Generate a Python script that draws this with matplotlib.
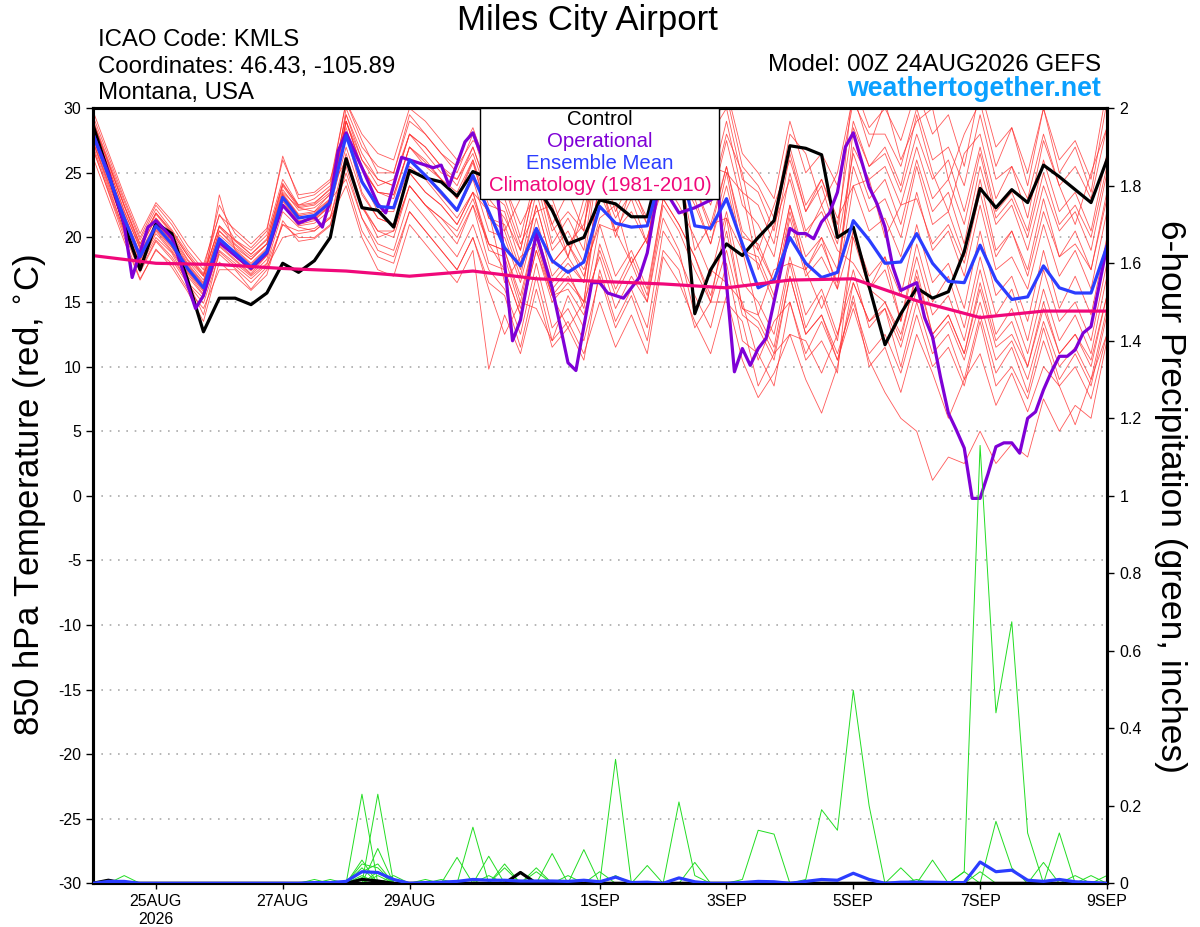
import numpy as np
import matplotlib
matplotlib.use('Agg')
import matplotlib.pyplot as plt
from matplotlib.patches import Rectangle
from matplotlib.ticker import FormatStrFormatter

plt.rcParams['font.family'] = ['Liberation Sans', 'DejaVu Sans']
plt.rcParams['axes.unicode_minus'] = False

# forecast hours from 00Z 24AUG2026, 6-hourly ensemble output
hours = np.arange(0, 385, 6)
clim_hours = np.arange(0, 385, 24)

xtick_hours = [24, 72, 120, 192, 240, 288, 336, 384]
xtick_labels = ['25AUG\n2026', '27AUG', '29AUG', '1SEP', '3SEP', '5SEP', '7SEP', '9SEP']

control_temp = [28.8, 25.0, 21.0, 17.5, 21.1, 20.3, 16.7, 12.7,
                15.3, 15.3, 14.8, 15.7, 18.0, 17.3, 18.2, 20.0,
                26.1, 22.3, 22.1, 20.8, 25.2, 24.6, 24.3, 23.2,
                25.1, 24.6, 24.2, 23.8, 24.0, 22.1, 19.5, 20.0,
                22.9, 22.6, 21.6, 21.6, 26.5, 27.0, 14.1, 17.5,
                19.5, 18.6, 20.0, 21.3, 27.1, 26.9, 26.4, 20.0,
                20.8, 16.2, 11.7, 14.1, 16.1, 15.3, 15.8, 18.9,
                23.8, 22.3, 23.7, 22.7, 25.6, 24.7, 23.7, 22.7,
                26.0]

mean_temp = [28.1, 24.8, 21.5, 18.5, 20.9, 19.5, 17.6, 16.1,
             19.9, 18.8, 17.7, 18.9, 23.1, 21.5, 21.7, 22.7,
             27.9, 24.3, 22.4, 22.3, 26.0, 24.8, 23.5, 22.1,
             24.8, 22.0, 19.2, 17.8, 20.7, 18.2, 17.3, 18.1,
             22.4, 21.1, 20.8, 20.9, 25.5, 26.0, 20.9, 20.7,
             23.0, 19.5, 16.1, 16.7, 20.0, 18.0, 16.9, 17.3,
             21.3, 19.8, 18.0, 18.1, 20.3, 18.0, 16.6, 16.5,
             19.4, 16.7, 15.2, 15.4, 17.8, 16.1, 15.7, 15.7,
             19.3]

# operational run is 3-hourly
op_hours = [0, 6, 12, 15, 21, 24, 30, 39, 42, 48, 60, 66, 72, 78, 84, 87, 90, 93, 96, 102,
            108, 111, 117, 123, 129, 132, 135, 141, 144, 147, 153, 159, 162, 168, 174, 180,
            183, 189, 192, 195, 201, 207, 210, 216, 219, 222, 228, 234, 237, 243, 246, 249,
            252, 255, 264, 267, 270, 273, 276, 279, 282, 285, 288, 294, 297, 300, 303, 306,
            309, 312, 315, 318, 321, 324, 327, 330, 333, 336, 339, 342, 345, 348, 351, 354,
            357, 360, 363, 366, 369, 372, 375, 378, 384]
op_temp = [28.1, 25.0, 21.0, 16.9, 20.8, 21.3, 20.0, 14.5, 15.5, 19.6, 17.6, 18.8, 22.5, 21.1,
           21.6, 20.8, 22.9, 26.7, 28.1, 25.4, 22.6, 21.9, 26.2, 25.8, 25.4, 25.6, 24.0, 27.4,
           28.1, 26.5, 24.0, 12.0, 13.6, 20.3, 16.1, 10.3, 9.7, 16.5, 16.5, 15.7, 15.3, 16.9,
           18.8, 26.0, 22.9, 21.9, 22.3, 22.9, 23.3, 9.6, 11.4, 10.1, 11.4, 12.2, 20.7, 20.3,
           20.3, 19.9, 21.2, 21.9, 23.5, 27.0, 28.1, 23.9, 22.6, 20.8, 17.7, 15.9, 16.2, 16.5,
           13.8, 12.3, 9.2, 6.4, 5.1, 3.7, -0.2, -0.2, 1.7, 3.8, 4.1, 4.1, 3.3, 6.0, 6.5, 8.2,
           9.6, 10.8, 10.8, 11.3, 12.6, 13.1, 19.3]

clim_temp = [18.6, 18.0, 17.9, 17.6, 17.4, 17.0, 17.4, 16.8, 16.6,
             16.4, 16.1, 16.7, 16.8, 15.1, 13.8, 14.3, 14.3]

member_temp = [
    [28.6, 25.5, 22.0, 19.2, 21.5, 20.0, 18.0, 16.5, 20.5, 19.2, 18.3, 19.5, 23.5, 22.3, 22.0, 23.4,
     29.5, 26.0, 24.0, 24.5, 28.0, 26.5, 25.0, 24.5,
     26.5, 23.0, 21.5, 19.0, 24.5, 21.0, 18.5, 22.0, 27.0, 23.0, 26.0, 25.0, 28.5, 31.0, 26.0, 23.0,
     28.0, 25.0, 19.0, 22.5, 26.0, 22.0, 24.5, 21.0, 29.0, 25.5, 27.0, 24.0, 29.5, 25.0, 22.0, 26.5,
     28.0, 23.0, 25.5, 21.5, 27.5, 24.0, 21.0, 25.0, 28.5],
    [27.5, 24.0, 20.5, 17.8, 20.0, 18.8, 16.5, 15.3, 19.0, 18.0, 17.0, 18.0, 22.0, 20.8, 20.5, 21.5,
     26.5, 22.5, 20.0, 20.5, 24.0, 22.5, 21.0, 19.5,
     22.5, 18.0, 17.5, 14.0, 19.0, 15.5, 13.0, 15.0, 18.5, 14.5, 17.0, 15.0, 21.5, 19.0, 14.0, 17.5,
     16.5, 15.0, 10.5, 13.5, 15.0, 11.0, 13.5, 10.5, 15.5, 10.0, 11.5, 8.0, 12.5, 9.5, 6.0, 9.0,
     11.0, 7.0, 9.5, 6.5, 10.0, 8.5, 5.5, 9.0, 12.5],
    [29.2, 26.0, 22.8, 19.8, 22.2, 20.6, 18.8, 17.2, 21.8, 19.8, 19.0, 20.2, 24.5, 22.5, 23.0, 24.0,
     30.5, 27.5, 25.0, 25.0, 29.5, 28.0, 26.5, 25.5,
     27.5, 26.5, 20.5, 23.0, 25.0, 21.0, 23.5, 20.5, 28.5, 26.0, 29.0, 24.5, 31.5, 32.0, 27.5, 29.0,
     31.0, 25.5, 24.0, 21.5, 28.0, 26.5, 22.5, 25.0, 31.0, 27.0, 30.5, 26.0, 29.0, 30.0, 24.5, 28.0,
     30.5, 25.5, 28.5, 24.0, 30.0, 25.0, 27.0, 23.5, 30.5],
    [27.0, 23.5, 20.0, 16.8, 19.0, 18.0, 16.0, 14.5, 17.5, 17.5, 16.0, 17.5, 21.0, 20.0, 20.0, 21.0,
     25.0, 21.5, 19.0, 18.5, 22.0, 20.5, 19.0, 17.5,
     20.0, 16.0, 12.5, 15.0, 14.5, 12.0, 15.5, 13.0, 19.5, 16.0, 18.5, 15.5, 23.0, 21.0, 18.5, 15.0,
     21.5, 14.5, 14.0, 11.5, 18.0, 13.0, 15.5, 12.0, 20.0, 16.0, 18.5, 13.5, 19.5, 15.0, 17.0, 13.0,
     18.5, 14.0, 16.0, 12.0, 17.5, 13.5, 15.0, 12.0, 18.0],
    [28.0, 25.0, 21.3, 18.3, 21.0, 19.8, 17.5, 16.0, 20.0, 18.5, 17.5, 19.0, 23.3, 21.7, 21.5, 23.0,
     29.0, 25.5, 23.5, 23.0, 27.0, 25.5, 24.5, 23.5,
     26.0, 21.5, 20.5, 17.0, 22.5, 18.0, 19.5, 17.0, 21.5, 22.5, 18.0, 20.0, 24.5, 22.5, 20.0, 17.0,
     22.0, 16.5, 15.0, 12.5, 18.5, 14.0, 16.0, 12.5, 17.5, 13.0, 14.5, 10.0, 15.0, 11.0, 12.5, 9.0,
     14.0, 9.5, 11.5, 8.0, 13.0, 9.0, 11.0, 8.5, 14.0],
    [28.9, 25.7, 22.4, 19.3, 21.8, 20.3, 18.3, 17.0, 20.8, 19.5, 18.5, 19.5, 24.0, 22.3, 22.5, 23.5,
     28.0, 23.5, 21.5, 21.0, 25.0, 23.5, 22.5, 21.0,
     23.5, 22.0, 16.5, 18.5, 19.5, 15.5, 17.0, 15.0, 24.5, 20.0, 24.0, 21.5, 27.0, 29.5, 23.0, 25.5,
     25.0, 23.5, 17.5, 21.0, 24.5, 20.0, 22.5, 19.5, 26.5, 23.0, 24.5, 21.0, 26.0, 22.0, 23.5, 19.5,
     25.5, 21.0, 22.5, 19.0, 24.0, 20.5, 22.0, 19.0, 25.0],
    [27.6, 24.3, 21.0, 18.0, 20.5, 19.0, 17.2, 15.6, 19.4, 18.3, 17.2, 18.6, 22.5, 21.0, 21.3, 22.5,
     29.0, 26.0, 24.5, 24.0, 28.0, 27.0, 25.5, 24.5,
     27.0, 23.5, 23.0, 19.5, 22.0, 22.5, 18.5, 23.0, 26.0, 27.5, 24.5, 28.5, 30.0, 33.0, 25.5, 28.0,
     30.0, 24.5, 23.5, 20.5, 27.0, 22.5, 24.5, 21.5, 24.0, 24.5, 20.0, 22.5, 23.0, 19.5, 21.0, 18.0,
     23.5, 18.5, 20.5, 17.0, 22.0, 18.5, 19.5, 17.5, 23.0],
    [29.5, 26.3, 23.0, 20.0, 22.5, 21.0, 19.0, 17.5, 22.5, 20.3, 19.2, 20.5, 26.3, 23.0, 23.3, 24.3,
     30.5, 28.0, 26.5, 26.0, 30.0, 29.0, 27.5, 26.0,
     28.5, 25.0, 24.0, 21.0, 23.5, 23.0, 19.5, 21.0, 26.0, 22.0, 24.5, 21.0, 28.5, 27.0, 24.0, 20.5,
     25.5, 20.0, 19.5, 16.5, 22.5, 17.5, 20.0, 16.0, 20.5, 16.0, 17.5, 13.5, 18.5, 14.0, 15.5, 12.0,
     17.5, 12.5, 14.5, 11.0, 16.0, 12.0, 14.0, 11.0, 17.0],
    [27.2, 23.8, 20.5, 17.5, 19.8, 18.5, 16.6, 14.0, 18.9, 17.8, 16.8, 17.9, 21.0, 20.5, 20.7, 21.6,
     25.5, 21.5, 19.5, 19.0, 23.0, 21.5, 20.0, 18.5,
     21.0, 17.5, 16.0, 12.5, 18.0, 13.0, 14.5, 12.0, 17.0, 13.0, 15.5, 12.0, 19.0, 17.5, 13.0, 15.0,
     15.0, 13.5, 8.5, 11.0, 12.5, 12.0, 9.5, 12.5, 16.5, 13.5, 15.0, 12.0, 17.5, 12.5, 14.0, 11.0,
     16.5, 12.0, 13.5, 10.0, 15.0, 11.0, 12.5, 10.5, 15.5],
    [28.4, 25.1, 21.8, 18.8, 21.2, 19.8, 17.9, 16.4, 20.2, 19.1, 18.0, 19.2, 23.4, 21.8, 22.0, 23.0,
     28.0, 24.3, 22.5, 22.2, 26.0, 24.8, 23.3, 22.0,
     24.5, 20.5, 20.0, 16.5, 21.5, 17.0, 18.5, 16.5, 24.5, 20.5, 23.0, 19.5, 27.5, 25.5, 23.0, 19.5,
     25.0, 19.0, 18.5, 15.5, 22.0, 17.5, 19.5, 16.5, 24.0, 20.5, 21.5, 18.5, 23.5, 19.0, 20.5, 17.0,
     22.5, 17.5, 18.5, 16.0, 21.0, 17.0, 19.0, 16.0, 22.0],
    [27.8, 24.5, 21.2, 18.2, 20.6, 19.2, 17.3, 15.8, 19.6, 18.5, 17.4, 18.6, 22.8, 21.2, 21.4, 22.4,
     27.0, 23.3, 21.5, 21.0, 25.0, 23.5, 22.5, 21.0,
     23.5, 19.5, 19.0, 15.0, 20.5, 16.0, 17.5, 14.5, 21.0, 17.0, 19.0, 16.0, 23.0, 21.0, 18.5, 15.5,
     20.5, 14.5, 13.5, 11.0, 17.0, 12.5, 14.0, 10.5, 14.5, 10.5, 8.0, 6.0, 5.0, 1.2, 3.0, 2.5,
     5.0, 2.5, 4.0, 3.0, 7.5, 5.0, 7.0, 6.0, 12.0],
    [29.0, 25.8, 22.5, 19.5, 21.9, 20.4, 18.6, 17.0, 20.9, 19.7, 18.7, 19.8, 24.2, 22.4, 22.6, 23.8,
     29.5, 26.5, 24.5, 24.0, 28.0, 27.0, 25.5, 24.0,
     27.0, 23.5, 22.5, 19.0, 24.5, 19.5, 21.5, 19.0, 27.5, 24.0, 26.5, 23.5, 31.0, 30.0, 27.0, 24.0,
     29.0, 23.5, 22.5, 19.5, 26.5, 22.0, 24.0, 20.0, 32.0, 28.5, 30.0, 27.5, 31.5, 28.0, 29.5, 25.5,
     31.5, 27.0, 28.5, 25.0, 30.0, 26.0, 27.5, 24.5, 31.5],
    [26.9, 23.6, 20.3, 17.3, 19.7, 18.3, 16.4, 14.9, 18.7, 17.6, 16.5, 17.7, 20.0, 20.3, 20.5, 21.5,
     24.0, 20.0, 17.5, 17.0, 21.0, 19.5, 18.0, 16.5,
     19.0, 9.8, 14.0, 11.0, 16.0, 11.5, 13.0, 10.5, 17.5, 13.5, 16.0, 13.0, 20.5, 18.5, 15.5, 13.0,
     18.0, 12.0, 11.0, 8.5, 15.0, 10.5, 12.0, 9.5, 20.5, 17.0, 18.5, 15.5, 21.0, 16.5, 18.0, 14.5,
     20.5, 15.5, 17.0, 13.5, 19.0, 14.5, 17.0, 14.0, 20.0],
    [28.7, 25.4, 22.1, 19.1, 21.5, 20.1, 18.2, 16.7, 20.5, 19.4, 18.3, 19.5, 23.7, 22.1, 22.3, 23.3,
     29.0, 25.3, 23.5, 23.3, 27.0, 25.8, 24.5, 23.0,
     25.8, 21.5, 21.0, 17.5, 22.5, 18.0, 19.5, 17.5, 21.0, 20.5, 18.0, 20.0, 24.0, 25.5, 19.0, 21.0,
     21.5, 19.0, 14.0, 17.5, 18.0, 17.5, 14.5, 17.5, 27.0, 24.5, 25.5, 22.5, 27.0, 23.0, 24.5, 21.0,
     26.5, 21.5, 23.0, 20.0, 25.0, 21.0, 22.5, 20.0, 25.5],
    [27.5, 24.2, 20.9, 17.9, 20.3, 18.9, 17.0, 15.5, 19.3, 18.2, 17.1, 18.3, 22.5, 20.9, 21.1, 22.1,
     30.0, 27.0, 25.5, 25.0, 29.0, 28.0, 26.5, 25.0,
     28.0, 24.0, 24.0, 20.0, 25.0, 20.5, 22.0, 20.5, 30.0, 27.5, 29.5, 27.0, 33.0, 32.5, 30.0, 27.5,
     31.5, 26.5, 25.0, 23.0, 29.0, 25.0, 26.5, 24.0, 30.5, 28.0, 28.0, 25.5, 30.0, 26.0, 27.0, 24.0,
     29.5, 24.5, 25.5, 23.0, 28.0, 24.0, 25.5, 23.0, 28.5],
    [29.9, 26.6, 23.3, 20.3, 22.7, 21.3, 19.4, 17.9, 21.7, 20.6, 19.5, 20.7, 26.0, 23.3, 23.5, 24.5,
     28.5, 24.5, 22.0, 22.0, 25.5, 24.5, 23.0, 21.5,
     23.5, 19.0, 18.5, 14.5, 20.0, 15.5, 16.0, 14.0, 19.0, 15.5, 18.0, 15.0, 22.5, 20.5, 17.5, 15.0,
     19.0, 14.0, 13.0, 10.5, 17.0, 12.5, 14.0, 11.0, 15.0, 11.0, 12.5, 9.5, 14.0, 10.0, 11.5, 8.5,
     13.5, 8.5, 10.0, 7.5, 12.0, 8.5, 10.0, 7.5, 12.5],
    [26.3, 23.0, 19.7, 16.7, 19.1, 17.7, 15.8, 13.5, 18.1, 17.0, 15.9, 17.1, 21.3, 19.7, 19.9, 20.9,
     26.0, 22.5, 20.5, 20.5, 24.0, 22.5, 21.5, 20.5,
     23.0, 19.5, 19.0, 15.5, 20.5, 16.5, 18.0, 16.5, 24.5, 21.5, 23.5, 21.0, 28.5, 26.5, 24.0, 21.0,
     25.5, 20.5, 19.0, 16.5, 22.5, 18.5, 20.0, 17.5, 25.5, 22.0, 23.0, 20.0, 25.5, 21.0, 22.0, 18.5,
     24.5, 19.0, 20.5, 17.5, 23.0, 18.5, 20.5, 17.5, 23.5],
    [28.3, 25.0, 21.7, 18.7, 21.1, 19.7, 17.8, 16.3, 23.3, 19.0, 17.9, 19.1, 23.3, 21.7, 21.9, 22.9,
     24.5, 20.5, 18.5, 18.0, 22.0, 20.5, 19.0, 17.5,
     20.0, 16.5, 15.5, 11.5, 17.0, 12.0, 13.5, 11.0, 15.0, 11.5, 14.0, 11.0, 18.5, 16.5, 13.5, 11.0,
     15.5, 10.5, 7.6, 9.5, 12.5, 9.0, 6.4, 10.0, 16.5, 13.5, 14.5, 11.5, 16.0, 12.0, 13.5, 10.5,
     15.0, 10.5, 12.0, 9.0, 13.5, 10.0, 11.5, 9.0, 14.5],
    [27.9, 24.6, 21.3, 18.3, 20.7, 19.3, 17.4, 15.9, 19.7, 18.6, 17.5, 18.7, 22.9, 21.3, 21.5, 22.5,
     29.0, 25.3, 23.5, 23.3, 27.0, 26.0, 24.5, 23.0,
     26.0, 22.5, 22.0, 18.0, 23.5, 19.0, 20.5, 18.0, 26.5, 23.5, 25.5, 23.0, 30.0, 28.0, 25.5, 22.5,
     27.5, 22.5, 21.0, 18.5, 25.0, 20.5, 22.0, 19.0, 18.0, 16.0, 15.0, 12.5, 17.0, 12.5, 14.0, 11.0,
     16.0, 11.5, 12.5, 10.0, 14.5, 11.0, 12.5, 10.0, 15.5],
    [29.1, 25.8, 22.5, 19.5, 21.9, 20.5, 18.6, 17.1, 20.9, 19.8, 18.7, 19.9, 24.1, 22.5, 22.7, 23.7,
     26.0, 22.3, 20.5, 20.0, 24.0, 22.5, 21.5, 20.0,
     22.5, 19.5, 17.5, 14.0, 19.0, 15.0, 16.5, 15.0, 23.5, 20.5, 22.0, 19.5, 27.0, 25.0, 22.5, 19.5,
     24.0, 19.0, 18.0, 15.0, 21.5, 17.0, 18.5, 16.0, 28.5, 25.5, 26.5, 23.5, 28.0, 24.5, 26.0, 22.0,
     27.0, 22.0, 23.5, 20.5, 26.0, 22.0, 23.5, 20.5, 26.5],
]

control_precip = [0, 0.008, 0, 0, 0, 0, 0, 0, 0, 0, 0, 0, 0, 0, 0, 0,
                  0, 0.01, 0.006, 0, 0, 0, 0, 0, 0, 0, 0, 0.028, 0, 0, 0, 0,
                  0, 0, 0, 0, 0, 0, 0, 0, 0, 0, 0, 0, 0, 0, 0, 0,
                  0, 0, 0, 0, 0, 0, 0, 0, 0, 0, 0, 0, 0, 0, 0, 0, 0]

mean_precip = [0, 0.005, 0.005, 0, 0, 0, 0, 0, 0, 0, 0, 0, 0, 0, 0.002, 0.002,
               0.005, 0.03, 0.028, 0.01, 0, 0.002, 0.003, 0.005, 0.01, 0.008, 0.008, 0.006, 0.006, 0.006, 0.005, 0.008,
               0.004, 0.016, 0.002, 0.003, 0, 0.014, 0.004, 0, 0, 0.002, 0.005, 0.004, 0, 0.005, 0.01, 0.008,
               0.026, 0.01, 0, 0.003, 0.003, 0.003, 0.002, 0.002, 0.055, 0.03, 0.034, 0.008, 0.005, 0.01, 0.004, 0.002, 0]

member_precip = [
    [0, 0, 0, 0, 0, 0, 0, 0, 0, 0, 0, 0, 0, 0, 0, 0, 0, 0.23, 0, 0, 0, 0, 0, 0, 0, 0, 0, 0, 0, 0, 0, 0,
     0.03, 0, 0, 0, 0, 0, 0, 0, 0, 0, 0, 0, 0, 0, 0, 0, 0, 0, 0, 0, 0, 0, 0, 0, 0, 0, 0, 0, 0, 0, 0, 0, 0.02],
    [0, 0, 0, 0, 0, 0, 0, 0, 0, 0, 0, 0, 0, 0, 0, 0, 0, 0, 0.23, 0, 0, 0, 0, 0, 0, 0.02, 0, 0, 0, 0, 0, 0,
     0, 0, 0, 0, 0, 0, 0, 0, 0, 0, 0, 0, 0, 0.01, 0.19, 0.137, 0.498, 0.2, 0, 0, 0, 0, 0, 0, 0, 0, 0, 0, 0, 0, 0, 0, 0],
    [0, 0, 0.02, 0, 0, 0, 0, 0, 0, 0, 0, 0, 0, 0, 0, 0, 0, 0, 0.09, 0, 0, 0, 0, 0, 0, 0, 0, 0, 0.04, 0, 0, 0,
     0, 0, 0, 0, 0, 0, 0, 0, 0, 0, 0, 0, 0, 0, 0, 0, 0, 0, 0, 0, 0, 0, 0, 0, 0.03, 0, 0, 0, 0, 0, 0, 0, 0],
    [0, 0, 0, 0, 0, 0, 0, 0, 0, 0, 0, 0, 0, 0, 0, 0, 0, 0.06, 0, 0, 0, 0, 0, 0, 0.145, 0, 0, 0, 0, 0, 0, 0,
     0, 0, 0, 0, 0, 0, 0, 0, 0, 0, 0, 0, 0, 0, 0, 0, 0, 0, 0, 0, 0, 0, 0, 0, 0, 0, 0, 0, 0, 0, 0, 0, 0],
    [0, 0, 0, 0, 0, 0, 0, 0, 0, 0, 0, 0, 0, 0, 0.01, 0, 0, 0.05, 0.04, 0, 0, 0, 0, 0, 0, 0, 0, 0, 0, 0, 0, 0,
     0, 0.32, 0, 0, 0, 0, 0, 0, 0, 0, 0, 0, 0, 0, 0, 0, 0, 0, 0, 0, 0, 0, 0, 0, 0, 0, 0, 0, 0, 0, 0, 0, 0],
    [0, 0, 0, 0, 0, 0, 0, 0, 0, 0, 0, 0, 0, 0, 0, 0, 0, 0.04, 0, 0, 0, 0, 0, 0.067, 0, 0, 0, 0, 0, 0, 0, 0,
     0, 0, 0, 0, 0, 0, 0, 0, 0, 0, 0, 0, 0, 0, 0, 0, 0, 0, 0, 0.04, 0, 0, 0, 0, 0, 0, 0, 0, 0, 0, 0, 0, 0],
    [0, 0.01, 0, 0, 0, 0, 0, 0, 0, 0, 0, 0, 0, 0, 0, 0, 0, 0, 0.03, 0, 0, 0, 0, 0, 0, 0.07, 0, 0, 0, 0, 0, 0,
     0, 0, 0, 0, 0, 0, 0, 0, 0, 0, 0, 0, 0, 0, 0, 0, 0, 0, 0, 0, 0, 0, 0, 0, 0, 0, 0, 0, 0.054, 0, 0, 0, 0],
    [0, 0, 0, 0, 0, 0, 0, 0, 0, 0, 0, 0, 0, 0, 0, 0, 0, 0.03, 0.05, 0, 0, 0, 0, 0, 0, 0, 0.04, 0, 0, 0, 0, 0,
     0, 0, 0, 0, 0, 0.21, 0.02, 0, 0, 0, 0, 0, 0, 0, 0, 0, 0, 0, 0, 0, 0, 0, 0, 0, 0, 0, 0, 0, 0, 0, 0, 0, 0],
    [0, 0, 0, 0, 0, 0, 0, 0, 0, 0, 0, 0, 0, 0, 0, 0.01, 0, 0, 0, 0.02, 0, 0, 0.01, 0, 0, 0, 0, 0, 0, 0, 0, 0,
     0, 0, 0, 0, 0, 0, 0, 0, 0, 0, 0, 0, 0, 0, 0, 0, 0, 0, 0, 0, 0, 0.06, 0, 0, 0, 0, 0, 0, 0, 0, 0, 0, 0],
    [0, 0, 0, 0, 0, 0, 0, 0, 0, 0, 0, 0, 0, 0, 0, 0, 0, 0.02, 0, 0, 0, 0.01, 0, 0, 0, 0, 0, 0, 0, 0, 0, 0,
     0, 0.02, 0, 0, 0, 0, 0, 0, 0, 0, 0, 0, 0, 0, 0, 0, 0, 0, 0, 0, 0, 0, 0, 0, 0, 0, 0, 0, 0, 0, 0, 0, 0],
    [0, 0, 0, 0, 0, 0, 0, 0, 0, 0, 0, 0, 0, 0, 0, 0, 0, 0, 0.02, 0, 0, 0, 0, 0, 0, 0, 0.05, 0, 0, 0, 0, 0,
     0, 0, 0, 0, 0, 0, 0, 0, 0, 0, 0, 0, 0, 0, 0, 0, 0, 0, 0, 0, 0, 0, 0, 0.03, 1.13, 0.44, 0.675, 0.13, 0, 0, 0, 0, 0],
    [0, 0, 0, 0, 0, 0, 0, 0, 0, 0, 0, 0, 0, 0, 0, 0, 0, 0.015, 0, 0, 0, 0, 0, 0, 0, 0, 0, 0.03, 0, 0, 0, 0,
     0, 0, 0, 0, 0, 0, 0, 0, 0, 0, 0, 0, 0, 0, 0, 0, 0, 0, 0, 0, 0, 0, 0, 0.03, 0, 0, 0, 0, 0, 0, 0, 0, 0],
    [0, 0, 0, 0, 0, 0, 0, 0, 0, 0, 0, 0, 0, 0, 0, 0, 0, 0, 0, 0, 0, 0, 0, 0, 0, 0, 0, 0, 0, 0.077, 0, 0,
     0, 0, 0, 0, 0, 0, 0, 0, 0, 0, 0, 0, 0, 0, 0, 0, 0, 0, 0, 0, 0, 0, 0, 0, 0, 0, 0, 0, 0, 0.13, 0, 0, 0],
    [0, 0, 0, 0, 0, 0, 0, 0, 0, 0, 0, 0, 0, 0, 0, 0, 0, 0, 0, 0, 0, 0, 0, 0, 0, 0, 0, 0, 0, 0, 0, 0.087,
     0, 0, 0, 0, 0, 0, 0, 0, 0, 0, 0, 0, 0, 0, 0, 0, 0, 0, 0, 0, 0.01, 0, 0, 0, 0, 0, 0, 0, 0, 0, 0, 0, 0],
    [0, 0, 0, 0, 0, 0, 0, 0, 0, 0, 0, 0, 0, 0, 0, 0, 0, 0, 0, 0, 0, 0, 0, 0, 0, 0, 0, 0, 0.03, 0, 0, 0,
     0, 0, 0, 0, 0, 0, 0, 0, 0, 0, 0, 0, 0, 0, 0, 0, 0, 0, 0, 0, 0, 0, 0, 0, 0, 0.16, 0.04, 0, 0, 0, 0, 0, 0],
    [0, 0, 0, 0, 0, 0, 0, 0, 0, 0, 0, 0, 0, 0, 0, 0, 0, 0, 0, 0, 0, 0, 0, 0, 0, 0, 0, 0, 0, 0, 0.02, 0,
     0, 0, 0, 0, 0, 0, 0, 0, 0, 0, 0, 0, 0, 0, 0, 0, 0, 0, 0, 0, 0, 0, 0, 0, 0, 0, 0, 0, 0, 0, 0.02, 0, 0],
    [0, 0, 0, 0, 0, 0, 0, 0, 0, 0, 0, 0, 0, 0, 0, 0, 0, 0, 0, 0, 0, 0, 0, 0, 0, 0, 0, 0, 0, 0, 0, 0,
     0, 0, 0, 0.046, 0, 0, 0, 0, 0, 0, 0, 0, 0, 0, 0, 0, 0, 0, 0, 0, 0, 0, 0, 0, 0, 0, 0, 0, 0, 0, 0, 0, 0],
    [0, 0, 0, 0, 0, 0, 0, 0, 0, 0, 0, 0, 0, 0, 0, 0, 0, 0, 0, 0, 0, 0, 0, 0, 0, 0, 0, 0, 0, 0, 0, 0,
     0, 0, 0, 0, 0, 0, 0, 0, 0, 0, 0, 0, 0, 0, 0, 0, 0, 0, 0, 0, 0, 0, 0, 0, 0, 0, 0, 0, 0, 0, 0, 0.02, 0],
    [0, 0, 0, 0, 0, 0, 0, 0, 0, 0, 0, 0, 0, 0, 0, 0, 0, 0, 0, 0, 0, 0, 0, 0, 0, 0, 0, 0, 0, 0, 0, 0,
     0, 0, 0, 0, 0, 0, 0.054, 0, 0, 0, 0, 0, 0, 0, 0, 0, 0, 0, 0, 0, 0, 0, 0, 0, 0, 0, 0, 0, 0, 0, 0, 0, 0],
    [0, 0, 0, 0, 0, 0, 0, 0, 0, 0, 0, 0, 0, 0, 0, 0, 0, 0, 0, 0, 0, 0, 0, 0, 0, 0, 0, 0, 0, 0, 0, 0,
     0, 0, 0, 0, 0, 0, 0, 0, 0, 0.01, 0.137, 0.127, 0, 0, 0, 0, 0, 0, 0, 0, 0, 0, 0, 0, 0, 0, 0, 0, 0, 0, 0, 0, 0],
]

for series in member_temp + member_precip + [control_temp, mean_temp, control_precip, mean_precip]:
    assert len(series) == len(hours), len(series)
assert len(op_hours) == len(op_temp)

legend_items = [('Control', 'black'), ('Operational', '#7f00d6'),
                ('Ensemble Mean', '#2b3dff'), ('Climatology (1981-2010)', '#f0087a')]

fig = plt.figure(figsize=(12, 9.27), dpi=100)
ax = fig.add_axes([0.0771, 0.0471, 0.8453, 0.8361])
ax2 = ax.twinx()

for v in range(-25, 30, 5):
    ax.axhline(v, color='#aaaaaa', lw=1.2, ls=(0, (1, 4)), zorder=1)

for m in member_temp:
    ax.plot(hours, m, color='#ff3030', lw=0.6, alpha=0.8, zorder=2)
ax.plot(hours, control_temp, color='black', lw=2.3, zorder=4)
ax.plot(op_hours, op_temp, color='#7f00d6', lw=2.3, zorder=5)
ax.plot(hours, mean_temp, color='#2b3dff', lw=2.3, zorder=6)
ax.plot(clim_hours, clim_temp, color='#f0087a', lw=2.3, zorder=7)

for p in member_precip:
    ax2.plot(hours, p, color='#22dd22', lw=0.7, zorder=2)
ax2.plot(hours, control_precip, color='black', lw=2.3, zorder=4)
ax2.plot(hours, mean_precip, color='#2b3dff', lw=2.3, zorder=5)

ax.set_xlim(0, 384)
ax.set_ylim(-30, 30)
ax2.set_ylim(0, 2)

ax.set_yticks(np.arange(-30, 31, 5))
ax.set_xticks(xtick_hours)
ax.set_xticklabels(xtick_labels)
ax2.set_yticks(np.arange(0, 2.01, 0.2))
ax2.yaxis.set_major_formatter(FormatStrFormatter('%g'))

ax.tick_params(axis='y', direction='out', length=5, width=1, labelsize=11.5, pad=3)
ax.tick_params(axis='x', direction='out', length=4, width=1, labelsize=11.5, pad=4)
ax2.tick_params(axis='y', direction='out', length=5, width=1, labelsize=11.5, pad=4)

for a in (ax, ax2):
    for s in a.spines.values():
        s.set_linewidth(2.2)

# legend box sits over the lines at the top of the plot
ax2.add_patch(Rectangle((0.382, 0.883), 0.2357, 0.117, transform=ax2.transAxes,
                        facecolor='white', edgecolor='black', lw=1, zorder=10, clip_on=False))
for (label, color), ypos in zip(legend_items, [0.985, 0.9565, 0.929, 0.900]):
    ax2.text(0.5003, ypos, label, color=color, fontsize=14.7, ha='center', va='center',
             transform=ax2.transAxes, zorder=11)

fig.text(587 / 1200, 1 - 30 / 927, 'Miles City Airport', ha='center', va='baseline', fontsize=25)
fig.text(98 / 1200, 1 - 46 / 927, 'ICAO Code: KMLS', ha='left', va='baseline', fontsize=17.3)
fig.text(98 / 1200, 1 - 72.5 / 927, 'Coordinates: 46.43, -105.89', ha='left', va='baseline', fontsize=17.3)
fig.text(98 / 1200, 1 - 99 / 927, 'Montana, USA', ha='left', va='baseline', fontsize=17.3)
fig.text(1101 / 1200, 1 - 71 / 927, 'Model: 00Z 24AUG2026 GEFS', ha='right', va='baseline', fontsize=17.4)
fig.text(1101 / 1200, 1 - 96.5 / 927, 'weathertogether.net', ha='right', va='baseline',
         fontsize=19.3, fontweight='bold', color='#0aa0ff')

fig.text(30 / 1200, 1 - 495 / 927, '850 hPa Temperature (red, $^{\\circ}$C)', rotation=90,
         ha='center', va='center', fontsize=25)
fig.text(1170 / 1200, 1 - 496 / 927, '6-hour Precipitation (green, inches)', rotation=270,
         ha='center', va='center', fontsize=25.5)

fig.savefig('out.png', dpi=100)
